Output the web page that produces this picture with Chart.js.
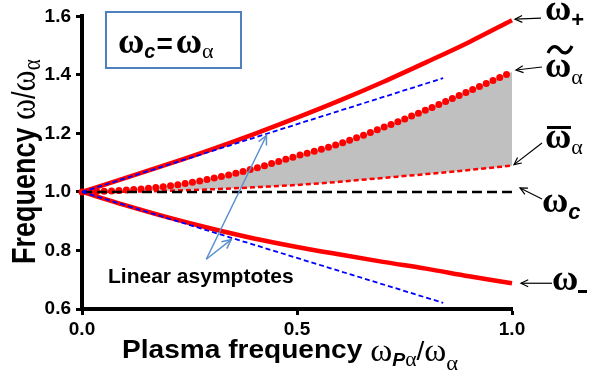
<!DOCTYPE html>
<html><head><meta charset="utf-8">
<script src="https://cdn.jsdelivr.net/npm/chart.js@4.4.1/dist/chart.umd.min.js"></script>
<style>html,body{margin:0;padding:0;background:#fff;} #wrap{width:589px;height:384px;position:relative}</style>
</head><body><div id="wrap"><canvas id="c" width="589" height="384"></canvas></div>
<script>
// ---- data ----
const plasmaFreq = [0, 0.1, 0.2, 0.3, 0.4, 0.5, 0.6, 0.7, 0.8, 0.9, 1.0];
const omegaPlus  = [1.0, 1.047, 1.095, 1.145, 1.198, 1.254, 1.313, 1.376, 1.443, 1.512, 1.587];
const omegaMinus = [1.0, 0.955, 0.913, 0.875, 0.841, 0.812, 0.786, 0.761, 0.738, 0.712, 0.688];
const omegaTilde = [1.0, 1.006, 1.020, 1.045, 1.080, 1.123, 1.165, 1.220, 1.280, 1.345, 1.410];
const omegaBar   = [1.0, 1.001, 1.004, 1.009, 1.016, 1.024, 1.035, 1.048, 1.061, 1.075, 1.090];
const omegaC     = [1.0, 1.0, 1.0, 1.0, 1.0, 1.0, 1.0, 1.0, 1.0, 1.0, 1.0];
const asymX      = [0, 0.84];
const asymUpper  = [1.0, 1.389];
const asymLower  = [1.0, 0.621];
const xTicks = [0, 0.5, 1.0];
const yTicks = [0.6, 0.8, 1.0, 1.2, 1.4, 1.6];
// annotation anchors (data units)
const asymLabelFrom = {x: 0.289, y: 0.77};
const asymArrowTo = [{x: 0.429, y: 1.193}, {x: 0.347, y: 0.837}];

const pts = (xs, ys) => xs.map((x, i) => ({x, y: ys[i]}));

const SANS = '"Liberation Sans", Arial, sans-serif';
const SERIF = '"Liberation Serif", "Times New Roman", serif';

function runs(ctx, x, y, list) {
  for (const r of list) {
    ctx.font = r.f;
    const dx = r.dx || 0;
    ctx.fillText(r.t, x + dx, y + (r.dy || 0));
    x += ctx.measureText(r.t).width + dx;
  }
  return x;
}
function arrow(ctx, x0, y0, x1, y1, head, color, lw) {
  ctx.save();
  ctx.strokeStyle = color; ctx.lineWidth = lw;
  ctx.beginPath(); ctx.moveTo(x0, y0); ctx.lineTo(x1, y1); ctx.stroke();
  const a = Math.atan2(y1 - y0, x1 - x0);
  ctx.beginPath();
  ctx.moveTo(x1 - head * Math.cos(a - 0.45), y1 - head * Math.sin(a - 0.45));
  ctx.lineTo(x1, y1);
  ctx.lineTo(x1 - head * Math.cos(a + 0.45), y1 - head * Math.sin(a + 0.45));
  ctx.stroke();
  ctx.restore();
}

const annot = {
  id: 'annot',
  afterDraw(chart) {
    const ctx = chart.ctx, xs = chart.scales.x, ys = chart.scales.y;
    const px = v => xs.getPixelForValue(v), py = v => ys.getPixelForValue(v);
    ctx.save();
    ctx.fillStyle = '#000';
    ctx.textBaseline = 'alphabetic';
    ctx.textAlign = 'left';

    // x axis title
    ctx.save();
    ctx.translate(122, 358);
    ctx.scale(1.08, 1);
    runs(ctx, 0, 0, [
      {t: 'Plasma frequency ', f: 'bold 26px ' + SANS},
      {t: 'ω', f: '31px ' + SERIF, dy: 3},
      {t: 'P', f: 'italic bold 18px ' + SANS, dy: 8},
      {t: 'α', f: '20px ' + SERIF, dy: 8},
      {t: '/', f: '26px ' + SANS, dy: 2},
      {t: 'ω', f: '31px ' + SERIF, dy: 3},
      {t: 'α', f: '21px ' + SERIF, dy: 12}
    ]);
    ctx.restore();

    // y axis title
    ctx.save();
    ctx.translate(35, 264);
    ctx.rotate(-Math.PI / 2);
    ctx.scale(1, 1.2);
    runs(ctx, 0, 0, [
      {t: 'Frequency ', f: 'bold 27px ' + SANS},
      {t: 'ω', f: '32px ' + SERIF},
      {t: '/', f: '27px ' + SANS},
      {t: 'ω', f: '32px ' + SERIF},
      {t: 'α', f: '21px ' + SERIF, dy: 4}
    ]);
    ctx.restore();

    // box
    ctx.strokeStyle = '#4f81bd'; ctx.lineWidth = 2;
    ctx.strokeRect(106, 12, 135, 56);
    runs(ctx, 118, 53, [
      {t: 'ω', f: 'bold 36px ' + SERIF},
      {t: 'c', f: 'italic bold 20px ' + SANS, dy: 5},
      {t: '=', f: 'bold 28px ' + SANS, dx: 1},
      {t: 'ω', f: 'bold 36px ' + SERIF, dx: 3},
      {t: 'α', f: '22px ' + SERIF, dy: 5}
    ]);

    // linear asymptotes label + arrows
    ctx.font = 'bold 21px ' + SANS;
    ctx.fillText('Linear asymptotes', 108, 283);
    const fx = px(asymLabelFrom.x), fy = py(asymLabelFrom.y);
    for (const t of asymArrowTo) arrow(ctx, fx, fy, px(t.x), py(t.y), 10, '#5b8fd0', 1.5);

    // right labels
    const endX = px(1);
    const W = 'bold 36px ' + SERIF;
    // omega +
    arrow(ctx, 541, py(omegaPlus[10]) - 2, endX + 3, py(omegaPlus[10]) - 1, 8, '#000', 1.2);
    runs(ctx, 545, 20, [{t: 'ω', f: W}, {t: '+', f: 'bold 22px ' + SANS, dy: 7}]);
    // omega tilde
    arrow(ctx, 542, py(omegaTilde[10]) - 5, endX + 4, py(omegaTilde[10]) - 2, 8, '#000', 1.2);
    runs(ctx, 545, 77, [{t: 'ω', f: W}, {t: 'α', f: '22px ' + SERIF, dy: 7}]);
    ctx.save();
    ctx.lineWidth = 3.2; ctx.strokeStyle = '#000';
    ctx.beginPath();
    ctx.moveTo(548, 53);
    ctx.bezierCurveTo(552, 44, 557, 46, 560, 50);
    ctx.bezierCurveTo(563, 54, 568, 55, 572, 46);
    ctx.stroke();
    ctx.restore();
    // omega bar
    arrow(ctx, 542, 143, endX + 2, py(omegaBar[10]) - 1, 8, '#000', 1.2);
    runs(ctx, 545, 148, [{t: 'ω', f: W}, {t: 'α', f: '22px ' + SERIF, dy: 6}]);
    ctx.fillRect(547, 126, 24, 3);
    // omega c
    arrow(ctx, 542, 199, endX + 8, py(omegaC[10]) - 4, 8, '#000', 1.2);
    runs(ctx, 542, 212, [{t: 'ω', f: W}, {t: 'c', f: 'italic bold 22px ' + SANS, dy: 7}]);
    // omega -
    arrow(ctx, 552, py(omegaMinus[10]), endX + 9, py(omegaMinus[10]), 8, '#000', 1.2);
    runs(ctx, 552, 290, [{t: 'ω', f: W}]);
    ctx.fillRect(578, 290, 9, 3);

    ctx.restore();
  }
};

new Chart(document.getElementById('c'), {
  type: 'line',
  data: {
    datasets: [
      {label: 'asym+', data: pts(asymX, asymUpper), borderColor: '#0000ff', borderWidth: 1.8, borderDash: [5, 3], pointRadius: 0, fill: false, tension: 0},
      {label: 'asym-', data: pts(asymX, asymLower), borderColor: '#0000ff', borderWidth: 1.8, borderDash: [5, 3], pointRadius: 0, fill: false, tension: 0},
      {label: 'omegaC', data: pts(plasmaFreq, omegaC), borderColor: '#000', borderWidth: 2.5, borderDash: [10, 5], pointRadius: 0, fill: false},
      {label: 'omega+', data: pts(plasmaFreq, omegaPlus), borderColor: '#ff0000', borderWidth: 4.5, pointRadius: 0, fill: false, cubicInterpolationMode: 'monotone'},
      {label: 'omega-', data: pts(plasmaFreq, omegaMinus), borderColor: '#ff0000', borderWidth: 4.5, pointRadius: 0, fill: false, cubicInterpolationMode: 'monotone'},
      {label: 'omegaTilde', data: pts(plasmaFreq, omegaTilde), borderColor: '#ff0000', borderWidth: 7, borderDash: [0, 7.4], borderCapStyle: 'round', pointRadius: 0, fill: '+1', backgroundColor: '#c0c0c0', cubicInterpolationMode: 'monotone'},
      {label: 'omegaBar', data: pts(plasmaFreq, omegaBar), borderColor: '#ff0000', borderWidth: 2.5, borderDash: [5, 3], pointRadius: 0, fill: false, cubicInterpolationMode: 'monotone'}
    ]
  },
  options: {
    responsive: false,
    devicePixelRatio: 1,
    animation: false,
    layout: {padding: {top: 12, right: 77, left: 0, bottom: 0}},
    plugins: {legend: {display: false}, tooltip: {enabled: false}, filler: {drawTime: 'beforeDatasetsDraw'}},
    datasets: {line: {clip: false}},
    scales: {
      x: {
        type: 'linear', min: 0, max: 1,
        afterBuildTicks: s => { s.ticks = xTicks.map(v => ({value: v})); },
        afterFit: s => { s.height = 75; },
        ticks: {color: '#000', font: {family: SANS, size: 19, weight: 'bold'}, padding: 3, maxRotation: 0, callback: v => v.toFixed(1)},
        grid: {display: true, drawOnChartArea: false, drawTicks: true, tickLength: 6, tickWidth: 3, tickColor: '#000'},
        border: {display: true, color: '#000', width: 4}
      },
      y: {
        type: 'linear', min: 0.6, max: 1.6,
        afterBuildTicks: s => { s.ticks = yTicks.map(v => ({value: v})); },
        afterFit: s => { s.width = 82; },
        ticks: {color: '#000', font: {family: SANS, size: 19, weight: 'bold'}, padding: 5, callback: v => v.toFixed(1)},
        grid: {display: true, drawOnChartArea: false, drawTicks: true, tickLength: 6, tickWidth: 3, tickColor: '#000'},
        border: {display: true, color: '#000', width: 4}
      }
    }
  },
  plugins: [annot]
});
</script>
</body></html>
